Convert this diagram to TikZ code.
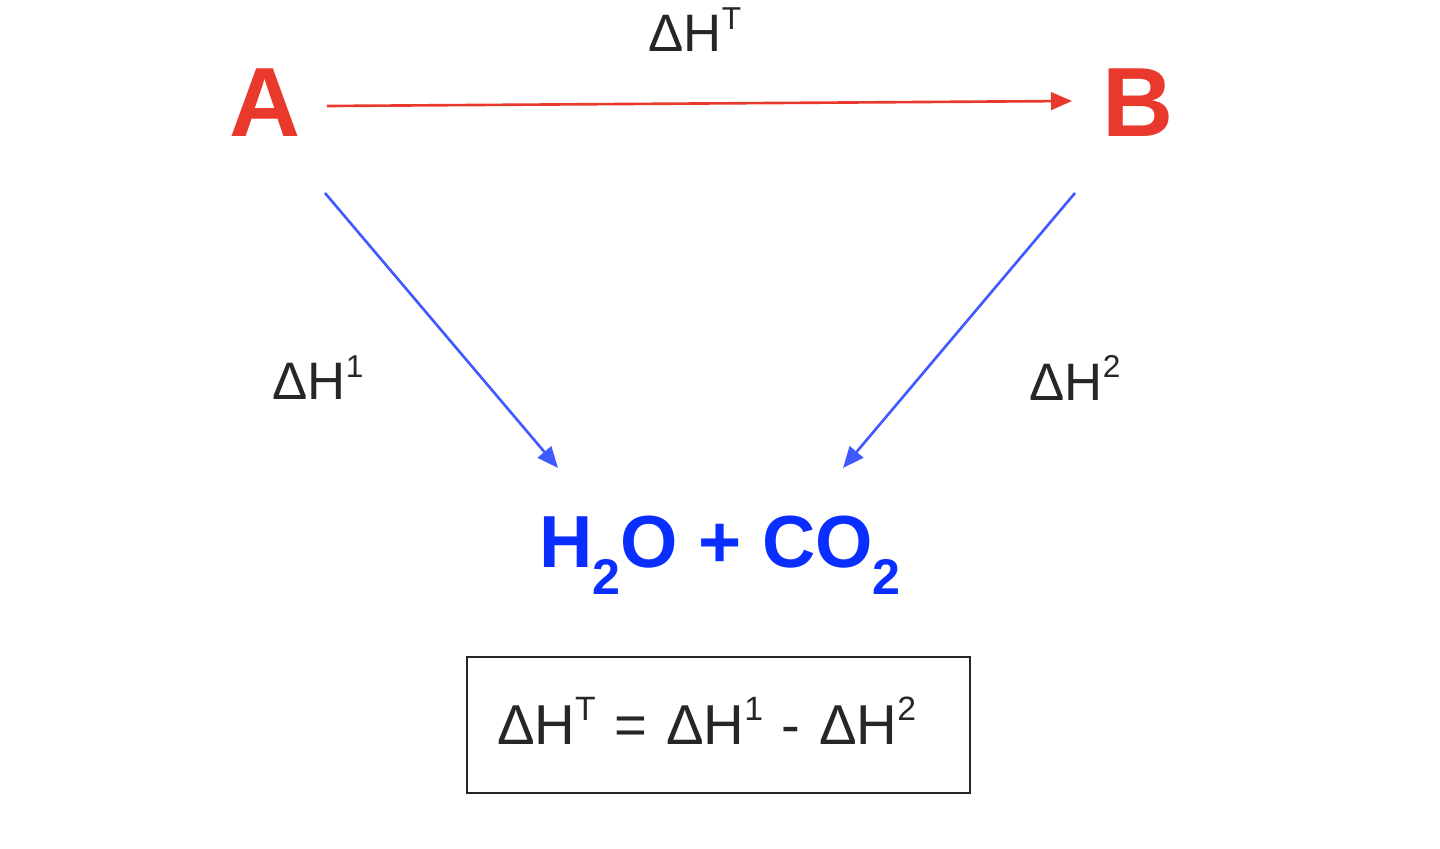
\documentclass[tikz,border=0pt]{standalone}
\usepackage{fontspec}
\setmainfont{Liberation Sans}
\usepackage{xcolor}
\usepackage{graphicx}
\definecolor{hessdo}{HTML}{E8392C}
\definecolor{hessxanh}{HTML}{0A2EFF}
\definecolor{muitenxanh}{HTML}{3F5BFF}
\def\muchiso#1{\raisebox{0.42em}{\scalebox{0.6}{#1}}}
\def\chiso#1{\raisebox{-0.36em}{\scalebox{0.68}{#1}}}
\usetikzlibrary{calc,positioning,arrows.meta}

\begin{document}
\begin{tikzpicture}[x=1cm,y=1cm]%
		\tikzset{
			chatdo/.style={font=\bfseries\fontsize{28pt}{30pt}\selectfont,text=hessdo},
			chatxanh/.style={font=\bfseries\fontsize{21pt}{24pt}\selectfont,text=hessxanh},
			nhan/.style={font=\fontsize{15pt}{17pt}\selectfont,text=black!85},
			muiten/.style={-{Triangle[length=6pt,width=5pt]},line width=0.75pt}
		}
		\useasboundingbox (0,0) rectangle (14.4,-8.49);
		%%%Hai chất A và B
		\node[chatdo] (A) at (2.65,-1.03) {A};
		\node[chatdo] (B) at (11.38,-1.03) {B};
		%%%Sản phẩm cháy
		\node[chatxanh] (sp) at (7.2,-5.55) {H\chiso{2}O + CO\chiso{2}};
		%%%Các điểm đầu mũi tên
		\coordinate (a1) at ($(A)+(0.6,-0.9)$);
		\coordinate (b1) at ($(B)+(-0.63,-0.9)$);
		\coordinate (s1) at ($(sp)+(-1.62,0.87)$);
		\coordinate (s2) at ($(sp)+(1.23,0.87)$);
		%%%Mũi tên
		\draw[muiten,hessdo] ($(A.east)+(0.14,-0.03)$) -- ($(B.west)+(-0.18,0.02)$);
		\draw[muiten,muitenxanh] (a1) -- (s1);
		\draw[muiten,muitenxanh] (b1) -- (s2);
		%%%Nhãn
		\node[nhan] (hT) at (6.95,-0.3) {ΔH\muchiso{T}};
		\node[nhan] (h1) at (3.18,-3.78) {ΔH\muchiso{1}};
		\node[nhan] (h2) at (10.75,-3.78) {ΔH\muchiso{2}};
		%%%Hộp công thức
		\node[draw=black!85,line width=0.8pt,minimum width=5.03cm,minimum height=1.36cm,
			text width=4.43cm,align=left,inner xsep=0.3cm,
			font=\fontsize{16pt}{18pt}\selectfont,text=black!85] (ct) at (7.185,-7.25)
			{\raisebox{0.09cm}{\mbox{ΔH\muchiso{T} = ΔH\muchiso{1} - ΔH\muchiso{2}}}};
	\end{tikzpicture}
\end{document}
